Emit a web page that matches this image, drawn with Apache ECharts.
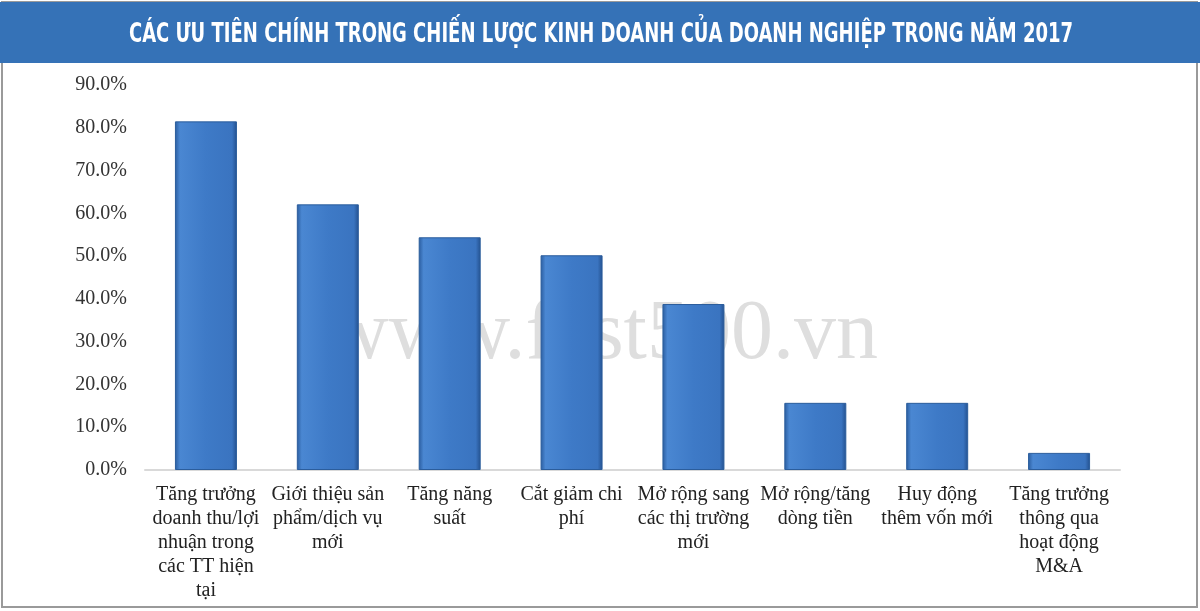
<!DOCTYPE html>
<html>
<head>
<meta charset="utf-8">
<script src="https://cdn.jsdelivr.net/npm/echarts@6/dist/echarts.min.js"></script>
<style>
html,body{margin:0;padding:0;background:#fff;}
#c{width:1200px;height:611px;}
</style>
</head>
<body>
<div id="c"></div>
<script>
const titleText = 'CÁC ƯU TIÊN CHÍNH TRONG CHIẾN LƯỢC KINH DOANH CỦA DOANH NGHIỆP TRONG NĂM 2017';
const watermark = 'www.fast500.vn';
const categories = [
  'Tăng trưởng\ndoanh thu/lợi\nnhuận trong\ncác TT hiện\ntại',
  'Giới thiệu sản\nphẩm/dịch vụ\nmới',
  'Tăng năng\nsuất',
  'Cắt giảm chi\nphí',
  'Mở rộng sang\ncác thị trường\nmới',
  'Mở rộng/tăng\ndòng tiền',
  'Huy động\nthêm vốn mới',
  'Tăng trưởng\nthông qua\nhoạt động\nM&A'
];
const values = [81.5, 62.1, 54.4, 50.2, 38.8, 15.7, 15.7, 4.0];
const yMin = 0, yMax = 90, yStep = 10;

const chart = echarts.init(document.getElementById('c'));
const barColor = new echarts.graphic.LinearGradient(0, 0, 1, 0, [
  {offset: 0, color: '#2a5c9e'},
  {offset: 0.08, color: '#4a87d2'},
  {offset: 0.5, color: '#3e7ac7'},
  {offset: 0.92, color: '#3a74c0'},
  {offset: 1, color: '#23508e'}
]);
chart.setOption({
  backgroundColor: '#ffffff',
  animation: false,
  graphic: [
    {type: 'rect', z: -10, shape: {x: 2, y: 2, width: 1195, height: 605}, style: {fill: '#fff', stroke: '#9a9a9a', lineWidth: 2}},
    {type: 'rect', z: -5, shape: {x: 0, y: 2, width: 1200, height: 61}, style: {fill: '#3572b7'}},
    {type: 'text', z: 10, x: 601, y: 35, scaleX: 0.77, style: {text: titleText, fill: '#ffffff', font: 'bold 26px "DejaVu Sans Condensed"', align: 'center', verticalAlign: 'middle'}},
    {type: 'text', z: -1, x: 603, y: 336, style: {text: watermark, fill: '#dedede', font: '84px "Liberation Serif"', align: 'center', verticalAlign: 'middle'}}
  ],
  grid: {left: 145, right: 80, top: 85, bottom: 141},
  xAxis: {
    type: 'category',
    data: categories,
    axisLine: {lineStyle: {color: '#d9d9d9', width: 2}},
    axisTick: {show: false},
    axisLabel: {interval: 0, margin: 13, fontFamily: 'Liberation Serif', fontSize: 20, color: '#222', lineHeight: 24, align: 'center', verticalAlign: 'top'}
  },
  yAxis: {
    type: 'value',
    min: yMin, max: yMax, interval: yStep,
    axisLine: {show: false},
    axisTick: {show: false},
    splitLine: {show: false},
    axisLabel: {margin: 18, fontFamily: 'Liberation Serif', fontSize: 20, color: '#333', formatter: v => v.toFixed(1) + '%'}
  },
  series: [{
    type: 'bar',
    data: values,
    barWidth: 62,
    itemStyle: {color: barColor, borderColor: '#2b5d9c', borderWidth: 1}
  }]
});
</script>
</body>
</html>
